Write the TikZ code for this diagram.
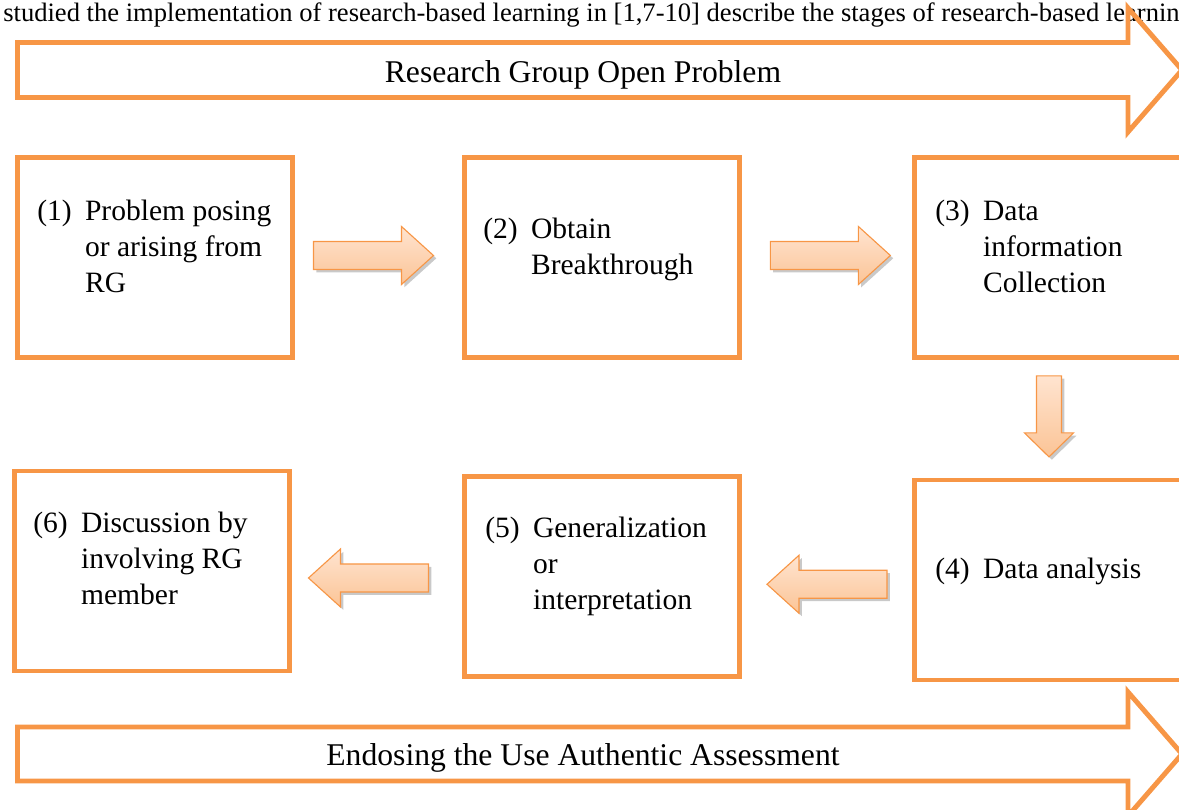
\documentclass[tikz,border=0pt]{standalone}
\usepackage{fontspec}
\setmainfont{Liberation Serif}
\usetikzlibrary{calc,shadows}
\definecolor{accentorange}{RGB}{247,150,70}
\definecolor{arrowlight}{RGB}{255,228,208}
\definecolor{arrowdark}{RGB}{251,196,150}

\tikzset{
  pics/blockarrow/.style n args={4}{code={
    \draw[flowarrow] ({-#1/2},-#2) -- ({#1/2-#4},-#2) -- ({#1/2-#4},-#3) -- ({#1/2},0)
      -- ({#1/2-#4},#3) -- ({#1/2-#4},#2) -- ({-#1/2},#2) -- cycle;
  }}
}

\begin{document}
\begin{tikzpicture}[x=0.025cm,y=-0.025cm,
    stepbox/.style={draw=accentorange,line width=3.5pt,minimum width=6.875cm,minimum height=5cm,inner sep=0pt},
    steptext/.style={anchor=base west,inner sep=0pt,font=\fontsize{21}{25.9}\selectfont},
    bannertext/.style={anchor=base,inner sep=0pt,font=\fontsize{22.5}{27}\selectfont},
    banner/.style={draw=accentorange,line width=3.5pt,line join=miter},
    flowarrow/.style={draw=accentorange,line width=0.8pt,top color=arrowlight,bottom color=arrowdark,
      drop shadow={shadow xshift=2pt,shadow yshift=-2pt,opacity=0.3,fill=black!70}}]
  \useasboundingbox (0,0) rectangle (1179,810);
  \clip (0,0) rectangle (1179,810);

  % running text above the figure
  \node[anchor=base west,inner sep=0pt,font=\fontsize{18.9}{22}\selectfont] (lead) at (3,21)
    {studied the implementation of research-based learning in [1,7-10] describe the stages of research-based learnin};

  % the two wide arrows
  \draw[banner] (17.5,42.5) -- (1128,42.5) -- (1128,8) -- (1182,70) -- (1128,132) -- (1128,97.5) -- (17.5,97.5) -- cycle;
  \node[bannertext] (rgop) at (583,82) {Research Group Open Problem};
  \draw[banner] (17.5,727) -- (1128,727) -- (1128,692) -- (1182,754) -- (1128,816) -- (1128,781) -- (17.5,781) -- cycle;
  \node[bannertext] (assess) at (583,765) {Endosing the Use Authentic Assessment};

  % stages
  \node[stepbox] (b1) at (155,257.5) {};
  \node[stepbox] (b2) at (602,257.5) {};
  \node[stepbox] (b3) at (1052,257.5) {};
  \node[stepbox] (b4) at (1052,580) {};
  \node[stepbox] (b5) at (602,576.5) {};
  \node[stepbox] (b6) at (152,571) {};

  \node[steptext] (t1) at (37,220) {\begin{tabular}[t]{@{}l@{\hspace{9.5pt}}l@{}}(1)&Problem posing\\&or arising from\\&RG\end{tabular}};
  \node[steptext] (t2) at (483,238) {\begin{tabular}[t]{@{}l@{\hspace{9.5pt}}l@{}}(2)&Obtain\\&Breakthrough\end{tabular}};
  \node[steptext] (t3) at (935,220) {\begin{tabular}[t]{@{}l@{\hspace{9.5pt}}l@{}}(3)&Data\\&information\\&Collection\end{tabular}};
  \node[steptext] (t4) at (935,578) {\begin{tabular}[t]{@{}l@{\hspace{9.5pt}}l@{}}(4)&Data analysis\end{tabular}};
  \node[steptext] (t5) at (485,537) {\begin{tabular}[t]{@{}l@{\hspace{9.5pt}}l@{}}(5)&Generalization\\&or\\&interpretation\end{tabular}};
  \node[steptext] (t6) at (33,532) {\begin{tabular}[t]{@{}l@{\hspace{9.5pt}}l@{}}(6)&Discussion by\\&involving RG\\&member\end{tabular}};

  % block arrows between the stages
  \pic at ($(b1.east)!0.47!(b2.west)+(0,-2)$) {blockarrow={120}{14}{29}{32}};
  \pic at ($(b2.east)!0.52!(b3.west)+(0,-2)$) {blockarrow={120}{14}{29}{32}};
  \pic[rotate=-90] at ($(b3.south)!0.48!(b4.north)+(-3,0)$) {blockarrow={81}{12.5}{24.5}{24}};
  \pic[rotate=180] at ($(b4.west)!0.5!(b5.east)+(0,6)$) {blockarrow={120}{14}{29}{32}};
  \pic[rotate=180] at ($(b5.west)!0.55!(b6.east)+(0,4.5)$) {blockarrow={120}{14}{29}{32}};
\end{tikzpicture}
\end{document}
